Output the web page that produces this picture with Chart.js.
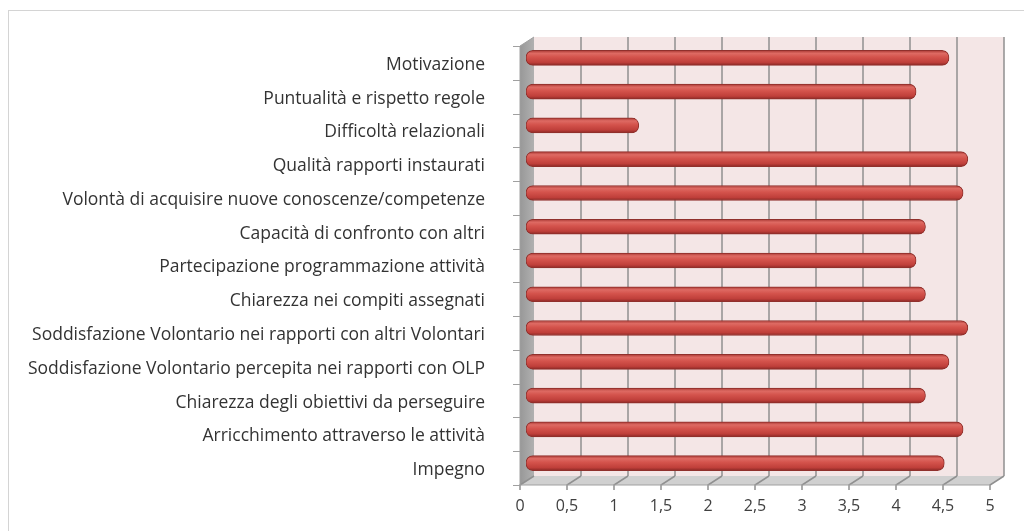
<!DOCTYPE html>
<html>
<head>
<meta charset="utf-8">
<script src="https://cdn.jsdelivr.net/npm/chart.js@4/dist/chart.umd.min.js"></script>
<style>
	html, body { margin: 0; padding: 0; background: #fff; }
	#wrap { width: 1024px; height: 531px; }
</style>
</head>
<body>
<div id="wrap"><canvas id="chartContainer" width="1024" height="531"></canvas></div>
<script>
// categories top to bottom
var categories = [
	"Motivazione",
	"Puntualità e rispetto regole",
	"Difficoltà relazionali",
	"Qualità rapporti instaurati",
	"Volontà di acquisire nuove conoscenze/competenze",
	"Capacità di confronto con altri",
	"Partecipazione programmazione attività",
	"Chiarezza nei compiti assegnati",
	"Soddisfazione Volontario nei rapporti con altri Volontari",
	"Soddisfazione Volontario percepita nei rapporti con OLP",
	"Chiarezza degli obiettivi da perseguire",
	"Arricchimento attraverso le attività",
	"Impegno"
];
var scores = [4.5, 4.15, 1.2, 4.7, 4.65, 4.25, 4.15, 4.25, 4.7, 4.5, 4.25, 4.65, 4.45];
var xTicks = [0, 0.5, 1, 1.5, 2, 2.5, 3, 3.5, 4, 4.5, 5];

// depth of the fake 3d box
var DX = 14, DY = -9;
// bars sit in the middle of the box
var BAR_DX = 6, BAR_DY = -5;

Chart.defaults.font.family = "'Open Sans', Lato, sans-serif";
Chart.defaults.color = "#404040";

var boxPlugin = {
	id: "box3d",
	beforeDraw(chart) {
		var ctx = chart.ctx;
		ctx.save();
		ctx.fillStyle = "#fff";
		ctx.fillRect(0, 0, chart.width, chart.height);
		ctx.strokeStyle = "#d4d4d4";
		ctx.lineWidth = 1;
		ctx.strokeRect(8.5, 10.5, 1100, 600);
		ctx.restore();
	},
	beforeDatasetsDraw(chart) {
		var ctx = chart.ctx;
		var x = chart.scales.x;
		var L = x.getPixelForValue(0), R = x.getPixelForValue(5);
		var T = chart.chartArea.top, B = chart.chartArea.bottom;
		ctx.save();

		// back wall
		ctx.fillStyle = "#f4e6e6";
		ctx.fillRect(L + DX, T + DY, R - L, B - T);

		// floor
		ctx.beginPath();
		ctx.moveTo(L, B);
		ctx.lineTo(L + DX, B + DY);
		ctx.lineTo(R + DX, B + DY);
		ctx.lineTo(R, B);
		ctx.closePath();
		ctx.fillStyle = "#d0d0d0";
		ctx.fill();

		// left wall
		var g = ctx.createLinearGradient(L, 0, L + DX, 0);
		g.addColorStop(0, "#989898");
		g.addColorStop(1, "#b0b0b0");
		ctx.beginPath();
		ctx.moveTo(L, T);
		ctx.lineTo(L + DX, T + DY);
		ctx.lineTo(L + DX, B + DY);
		ctx.lineTo(L, B);
		ctx.closePath();
		ctx.fillStyle = g;
		ctx.fill();

		// grid lines on back wall and floor
		ctx.strokeStyle = "#909090";
		ctx.lineWidth = 1.5;
		xTicks.forEach((v) => {
			var px = x.getPixelForValue(v);
			ctx.beginPath();
			if (v > 0) {
				ctx.moveTo(px + DX, T + DY);
				ctx.lineTo(px + DX, B + DY);
			}
			ctx.moveTo(px + DX, B + DY);
			ctx.lineTo(px, B);
			ctx.lineTo(px, B + 5);
			ctx.stroke();
		});

		// front edges
		ctx.lineWidth = 1;
		ctx.strokeStyle = "#a0a0a0";
		ctx.beginPath();
		ctx.moveTo(L, T);
		ctx.lineTo(L, B);
		ctx.lineTo(R, B);
		ctx.moveTo(L, T);
		ctx.lineTo(L + DX, T + DY);
		ctx.stroke();

		// category tick marks
		var step = (B - T) / categories.length;
		ctx.beginPath();
		for (var i = 0; i <= categories.length; i++) {
			var py = Math.round(T + i * step) + 0.5;
			ctx.moveTo(L - 7, py);
			ctx.lineTo(L, py);
		}
		ctx.stroke();

		// move bars into the middle of the box
		ctx.translate(BAR_DX, BAR_DY);
	},
	afterDatasetsDraw(chart) {
		chart.ctx.restore();
	}
};

function barFill(c) {
	var chart = c.chart;
	if (!chart.chartArea || !chart.scales.y) return "#d0504a";
	var cy = chart.scales.y.getPixelForValue(c.dataIndex);
	var g = chart.ctx.createLinearGradient(0, cy - 7.5, 0, cy + 7.5);
	g.addColorStop(0, "#a93833");
	g.addColorStop(0.2, "#de6a63");
	g.addColorStop(0.45, "#d4534c");
	g.addColorStop(0.8, "#bf3f3a");
	g.addColorStop(1, "#8a2825");
	return g;
}

var chart = new Chart(document.getElementById("chartContainer"), {
	type: "bar",
	data: {
		labels: categories,
		datasets: [
			{
				label: "Media",
				data: scores,
				backgroundColor: barFill,
				borderColor: "#90302c",
				borderWidth: 1,
				borderSkipped: false,
				borderRadius: 7,
				barThickness: 15,
			},
		],
	},
	options: {
		indexAxis: "y",
		responsive: false,
		animation: false,
		layout: { padding: { top: 46, right: 34, bottom: 0, left: 0 } },
		plugins: { legend: { display: false }, tooltip: { enabled: false } },
		scales: {
			x: {
				min: 0,
				max: 5,
				afterBuildTicks: (s) => { s.ticks = xTicks.map((v) => ({ value: v })); },
				afterFit: (s) => { s.height = 46; },
				grid: { display: false, drawTicks: false },
				border: { display: false },
				ticks: {
					padding: 12,
					font: { size: 16 },
					callback: (v) => String(v).replace(".", ","),
				},
			},
			y: {
				afterFit: (s) => { s.width = 520; },
				grid: { display: false, drawTicks: false },
				border: { display: false },
				ticks: { padding: 35, labelOffset: 2, font: { size: 17.5 }, color: "#333" },
			},
		},
	},
	plugins: [boxPlugin],
});
</script>
</body>
</html>
